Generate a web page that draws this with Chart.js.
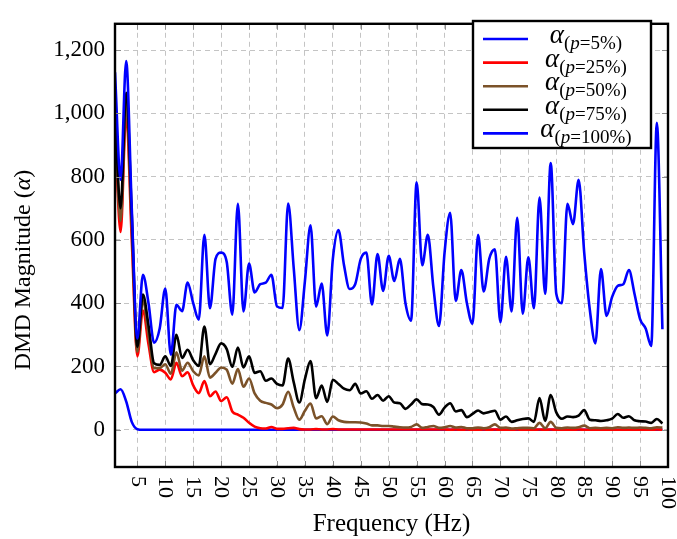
<!DOCTYPE html>
<html>
<head>
<meta charset="utf-8">
<script src="https://cdn.jsdelivr.net/npm/chart.js@4/dist/chart.umd.min.js"></script>
<style>
  html, body { margin: 0; padding: 0; background: #fff; }
</style>
</head>
<body>
<canvas id="c" width="677" height="539"></canvas>
<script>
// frequency grid (Hz)
const freq = Array.from({ length: 99 }, (_, i) => i + 1);
const xTicks = [5, 10, 15, 20, 25, 30, 35, 40, 45, 50, 55, 60, 65, 70, 75, 80, 85, 90, 95, 100];
const yTicks = [0, 200, 400, 600, 800, 1000, 1200];
const seriesNames = ['5%', '25%', '50%', '75%', '100%'];
const seriesColors = ['#0000ff', '#ff0000', '#7b5229', '#000000', '#0000ff'];

const p5 = [115, 128, 90, 25, 2, 0, 0, 0, 0, 0,
  0, 0, 0, 0, 0, 0, 0, 0, 0, 0,
  0, 0, 0, 0, 0, 0, 0, 0, 0, 0,
  0, 0, 0, 0, 0, 0, 0, 0, 0, 0,
  0, 0, 0, 0, 0, 0, 0, 0, 0, 0,
  0, 0, 0, 0, 0, 0, 0, 0, 0, 0,
  0, 0, 0, 0, 0, 0, 0, 0, 0, 0,
  0, 0, 0, 0, 0, 0, 0, 0, 0, 0,
  0, 0, 0, 0, 0, 0, 0, 0, 0, 0,
  0, 0, 0, 0, 0, 0, 0, 0, 0];

const p25 = [950, 625, 1000, 600, 232, 377, 270, 182, 190, 180,
  159, 212, 169, 182, 140, 116, 154, 106, 121, 91,
  103, 58, 48, 38, 22, 10, 5, 4, 9, 3,
  3, 5, 6, 2, 1, 1, 2, 1, 1, 2,
  1, 1, 1, 1, 1, 1, 1, 1, 1, 1,
  1, 1, 1, 1, 1, 1, 1, 1, 1, 1,
  0, 1, 0, 1, 0, 0, 1, 0, 1, 0,
  0, 0, 1, 0, 0, 0, 1, 0, 1, 0,
  0, 0, 0, 1, 0, 0, 0, 0, 0, 0,
  0, 0, 0, 0, 0, 0, 0, 1, 0];

const p50 = [980, 660, 1030, 640, 247, 409, 300, 195, 195, 207,
  177, 245, 187, 212, 185, 172, 232, 165, 180, 197,
  190, 146, 192, 136, 162, 115, 92, 85, 80, 68,
  80, 120, 70, 32, 60, 83, 36, 43, 18, 42,
  30, 25, 24, 24, 23, 20, 14, 14, 12, 12,
  10, 8, 7, 9, 17, 6, 9, 12, 6, 8,
  12, 7, 9, 5, 5, 7, 5, 8, 17, 6,
  7, 4, 5, 6, 6, 5, 22, 5, 25, 6,
  5, 7, 6, 8, 13, 5, 6, 5, 6, 5,
  8, 6, 7, 6, 7, 6, 5, 8, 7];

const p75 = [1000, 700, 1065, 680, 262, 427, 330, 210, 205, 232,
  202, 300, 227, 253, 220, 202, 326, 207, 240, 273,
  255, 199, 260, 197, 232, 180, 185, 155, 162, 145,
  140, 225, 150, 86, 160, 217, 100, 140, 88, 158,
  145, 130, 125, 145, 115, 122, 98, 110, 92, 106,
  86, 84, 66, 80, 96, 81, 80, 72, 48, 70,
  84, 58, 62, 40, 50, 61, 52, 56, 60, 32,
  42, 25, 30, 34, 36, 25, 100, 28, 110, 55,
  35, 42, 40, 45, 62, 32, 30, 28, 30, 35,
  50, 38, 43, 30, 27, 26, 22, 34, 20];

const p100 = [1130, 790, 1165, 700, 288, 490, 400, 275, 320, 446,
  237, 395, 375, 465, 400, 348, 616, 384, 540, 560,
  530, 364, 714, 374, 525, 434, 460, 465, 490, 390,
  385, 715, 510, 315, 470, 646, 389, 462, 298, 540,
  631, 520, 445, 460, 540, 560, 396, 555, 439, 550,
  470, 540, 400, 345, 782, 520, 616, 450, 328, 560,
  686, 407, 505, 400, 335, 616, 437, 540, 570, 340,
  547, 374, 670, 367, 545, 384, 734, 430, 843, 430,
  400, 714, 650, 790, 560, 380, 273, 508, 360, 420,
  455, 460, 505, 430, 350, 320, 265, 970, 318];

const allSeries = [p5, p25, p50, p75, p100];
const SERIF = '"Liberation Serif", "DejaVu Serif", serif';

// writes a run of [text, font, dy] pieces centred on cx
function drawRuns(ctx, parts, cx, y) {
  let w = 0;
  parts.forEach(p => { ctx.font = p[1]; w += ctx.measureText(p[0]).width; });
  let x = cx - w / 2;
  parts.forEach(p => {
    ctx.font = p[1];
    ctx.fillText(p[0], x, y + p[2]);
    x += ctx.measureText(p[0]).width;
  });
}

// frame, inner ticks, rotated x labels, y title and the legend
const extras = {
  id: 'extras',
  afterDatasetsDraw(chart) {
    const { ctx, chartArea: a, scales } = chart;
    ctx.save();
    ctx.strokeStyle = '#8c8c8c';
    ctx.lineWidth = 1;
    ctx.beginPath();
    xTicks.forEach(v => {
      const x = Math.round(scales.x.getPixelForValue(v)) + 0.5;
      ctx.moveTo(x, a.bottom); ctx.lineTo(x, a.bottom - 6);
      ctx.moveTo(x, a.top); ctx.lineTo(x, a.top + 6);
    });
    yTicks.forEach(v => {
      const y = Math.round(scales.y.getPixelForValue(v)) + 0.5;
      ctx.moveTo(a.left, y); ctx.lineTo(a.left + 6, y);
      ctx.moveTo(a.right, y); ctx.lineTo(a.right - 6, y);
    });
    ctx.stroke();
    ctx.strokeStyle = '#000';
    ctx.lineWidth = 2.4;
    ctx.strokeRect(a.left, a.top, a.right - a.left, a.bottom - a.top);

    // x tick labels, turned clockwise
    ctx.fillStyle = '#000';
    ctx.font = '22px ' + SERIF;
    ctx.textAlign = 'left';
    ctx.textBaseline = 'middle';
    xTicks.forEach(v => {
      const x = scales.x.getPixelForValue(v);
      ctx.save();
      ctx.translate(x, a.bottom + 9);
      ctx.rotate(Math.PI / 2);
      ctx.fillText(String(v), 0, 0);
      ctx.restore();
    });

    // y axis title
    ctx.save();
    ctx.translate(30, 270);
    ctx.rotate(-Math.PI / 2);
    ctx.textAlign = 'left';
    ctx.textBaseline = 'alphabetic';
    drawRuns(ctx, [
      ['DMD Magnitude (', '24px ' + SERIF, 0],
      ['α', 'italic 24px ' + SERIF, 0],
      [')', '24px ' + SERIF, 0]
    ], 0, 0);
    ctx.restore();

    // legend
    const bx = 473, by = 21, bw = 178, bh = 127;
    ctx.fillStyle = '#fff';
    ctx.fillRect(bx, by, bw, bh);
    ctx.strokeStyle = '#000';
    ctx.lineWidth = 2.4;
    ctx.strokeRect(bx, by, bw, bh);
    ctx.textAlign = 'left';
    ctx.textBaseline = 'alphabetic';
    seriesNames.forEach((name, i) => {
      const y = by + 18 + i * 23.6;
      ctx.strokeStyle = seriesColors[i];
      ctx.lineWidth = 2.6;
      ctx.beginPath();
      ctx.moveTo(483, y); ctx.lineTo(528, y);
      ctx.stroke();
      ctx.fillStyle = '#000';
      drawRuns(ctx, [
        ['α', 'italic 27px ' + SERIF, 0],
        ['(', '19px ' + SERIF, 6],
        ['p', 'italic 19px ' + SERIF, 6],
        ['=' + name + ')', '19px ' + SERIF, 6]
      ], 586, y + 4);
    });
    ctx.restore();
  }
};

const orders = [4, 3, 2, 1, 0];
new Chart(document.getElementById('c').getContext('2d'), {
  type: 'line',
  data: {
    labels: freq,
    datasets: allSeries.map((vals, i) => ({
      label: 'α(p=' + seriesNames[i] + ')',
      data: vals.map((v, k) => ({ x: freq[k], y: v })),
      borderColor: seriesColors[i],
      borderWidth: 2.6,
      pointRadius: 0,
      fill: false,
      cubicInterpolationMode: 'monotone',
      order: orders[i]
    }))
  },
  options: {
    responsive: false,
    animation: false,
    layout: { padding: { top: 6, right: 9, bottom: 0, left: 0 } },
    plugins: { legend: { display: false }, tooltip: { enabled: false } },
    scales: {
      x: {
        type: 'linear',
        min: 1,
        max: 100,
        afterBuildTicks: s => { s.ticks = xTicks.map(v => ({ value: v })); },
        afterFit: s => { s.height = 72; },
        ticks: { display: false },
        grid: { color: '#c4c4c4', lineWidth: 1, drawTicks: false },
        border: { display: false, dash: [5, 4] },
        title: {
          display: true, text: 'Frequency (Hz)', color: '#000',
          font: { family: SERIF, size: 25 }, padding: { top: 0, bottom: 0 }
        }
      },
      y: {
        min: -117.6,
        max: 1283,
        afterBuildTicks: s => { s.ticks = yTicks.map(v => ({ value: v })); },
        afterFit: s => { s.width = 115; },
        ticks: {
          color: '#000', padding: 10,
          font: { family: SERIF, size: 23 },
          callback: v => v.toLocaleString('en-US')
        },
        grid: { color: '#c4c4c4', lineWidth: 1, drawTicks: false },
        border: { display: false, dash: [5, 4] },
        title: { display: false }
      }
    }
  },
  plugins: [extras]
});
</script>
</body>
</html>
